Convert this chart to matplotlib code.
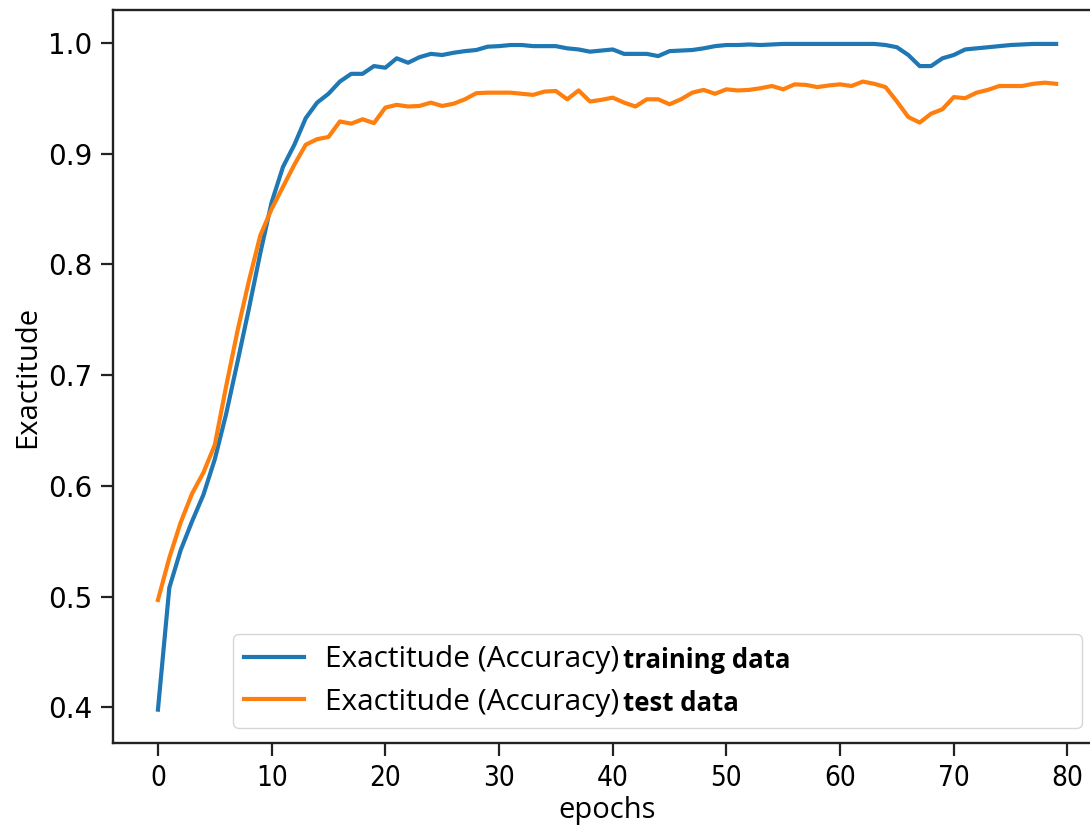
import matplotlib
matplotlib.use("Agg")
import matplotlib.pyplot as plt
import numpy as np

epochs = list(range(80))
train_acc = [
    0.398, 0.508, 0.542, 0.568, 0.592, 0.624, 0.665, 0.712, 0.760, 0.810,
    0.856, 0.888, 0.908, 0.932, 0.946, 0.954, 0.965, 0.972, 0.972, 0.979,
    0.9775, 0.986, 0.982, 0.987, 0.990, 0.989, 0.991, 0.9925, 0.9935, 0.9965,
    0.997, 0.998, 0.998, 0.997, 0.997, 0.997, 0.995, 0.994, 0.992, 0.993,
    0.994, 0.990, 0.990, 0.990, 0.988, 0.9925, 0.993, 0.9935, 0.995, 0.997,
    0.998, 0.998, 0.9985, 0.998, 0.9985, 0.999, 0.999, 0.999, 0.999, 0.999,
    0.999, 0.999, 0.999, 0.999, 0.998, 0.996, 0.989, 0.979, 0.979, 0.986,
    0.989, 0.994, 0.995, 0.996, 0.997, 0.998, 0.9985, 0.999, 0.999, 0.999,
]
test_acc = [
    0.497, 0.535, 0.567, 0.593, 0.612, 0.637, 0.690, 0.740, 0.785, 0.826,
    0.850, 0.870, 0.890, 0.908, 0.913, 0.915, 0.929, 0.927, 0.931, 0.9275,
    0.9415, 0.944, 0.9425, 0.943, 0.946, 0.943, 0.945, 0.949, 0.9545, 0.955,
    0.955, 0.955, 0.954, 0.953, 0.956, 0.9565, 0.949, 0.957, 0.947, 0.9485,
    0.9505, 0.946, 0.9425, 0.949, 0.949, 0.9445, 0.949, 0.955, 0.9575, 0.954,
    0.958, 0.957, 0.9575, 0.959, 0.961, 0.958, 0.9625, 0.962, 0.960, 0.9615,
    0.9625, 0.961, 0.965, 0.963, 0.960, 0.947, 0.933, 0.928, 0.936, 0.940,
    0.951, 0.950, 0.955, 0.9575, 0.961, 0.961, 0.961, 0.963, 0.964, 0.963,
]
label_main = "Exactitude (Accuracy)"
label_train = "training data"
label_test = "test data"
x_label = "epochs"
y_label = "Exactitude"

fig = plt.figure(figsize=(10.9, 8.35), dpi=100)
ax = fig.add_axes([0.1037, 0.1102, 0.9064, 0.8778])

l1, = ax.plot(epochs, train_acc, color="#1f77b4", lw=3.0, label=label_main)
l2, = ax.plot(epochs, test_acc, color="#ff7f0e", lw=3.0, label=label_main)

ax.set_xlim(-3.95, 82.95)
ax.set_ylim(0.3679, 1.0296)
ax.set_xticks([0, 10, 20, 30, 40, 50, 60, 70, 80])
ax.set_yticks([0.4, 0.5, 0.6, 0.7, 0.8, 0.9, 1.0])
ax.set_yticklabels(["0.4", "0.5", "0.6", "0.7", "0.8", "0.9", "1.0"])

for s in ax.spines.values():
    s.set_linewidth(1.7)
    s.set_color("#222222")
ax.tick_params(axis="both", length=9, width=1.6, pad=6, color="#222222")
for t in ax.get_yticklabels():
    t.set_fontfamily("DejaVu Sans")
    t.set_fontsize(20)
for t in ax.get_xticklabels():
    t.set_fontfamily("DejaVu Sans")
    t.set_fontstretch("condensed")
    t.set_fontsize(20)

ax.set_xlabel(x_label, fontsize=21, family="Open Sans", labelpad=3)
ax.set_ylabel(y_label, fontsize=21, family="Open Sans", labelpad=4)

leg = ax.legend(loc="lower left", mode="expand",
                bbox_to_anchor=(0.1215, 0.0205, 0.859, 0.128),
                borderaxespad=0, prop={"family": "Open Sans", "size": 21.5},
                labelspacing=0.45, borderpad=0.38, handlelength=2.0,
                handletextpad=0.7)
for txt, extra in zip(leg.get_texts(), [label_train, label_test]):
    ax.annotate(extra, xy=(1, 0), xycoords=txt, xytext=(3, 0),
                textcoords="offset points", ha="left", va="bottom",
                fontsize=18.5, fontweight="bold", family="Open Sans", zorder=7)

fig.savefig("out.png", dpi=100)
